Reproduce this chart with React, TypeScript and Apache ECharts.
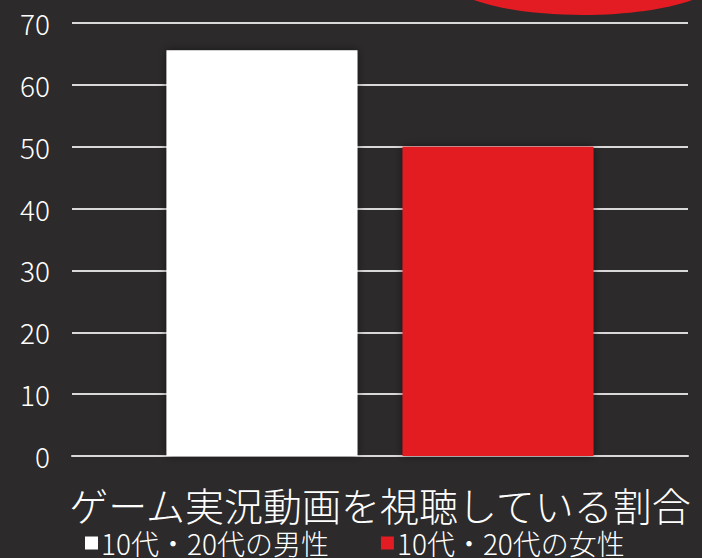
import React, { useEffect, useRef } from "react";
import * as echarts from "echarts";

const categories = ["ゲーム実況動画を視聴している割合"];
const seriesNames = ["10代・20代の男性", "10代・20代の女性"];
const maleValues = [65.6];
const femaleValues = [50];
const yTicks = { min: 0, max: 70, interval: 10 };

const FONT = '"Noto Sans CJK JP", "Noto Sans", sans-serif';

export default function App() {
  const ref = useRef<HTMLDivElement>(null);
  useEffect(() => {
    if (!ref.current) return;
    const chart = echarts.init(ref.current, null, { renderer: "svg" });
    chart.setOption({
      animation: false,
      backgroundColor: "#2c2a2b",
      textStyle: { fontFamily: FONT },
      grid: { left: 72, right: 14, top: 23, bottom: 102, containLabel: false },
      legend: {
        left: 85,
        top: 529,
        padding: 0,
        itemWidth: 13,
        itemHeight: 13,
        itemGap: 52,
        icon: "rect",
        textStyle: {
          color: "#ffffff",
          fontSize: 28,
          lineHeight: 26,
          fontWeight: 300,
          fontFamily: FONT,
          padding: [0, 0, 0, -2],
        },
        data: seriesNames,
      },
      xAxis: {
        type: "category",
        data: categories,
        axisLine: { show: true, lineStyle: { color: "#d9d9d9", width: 2 } },
        axisTick: { show: false },
        axisLabel: {
          color: "#ffffff",
          fontSize: 39,
          lineHeight: 39,
          fontWeight: 300,
          margin: 28,
          fontFamily: FONT,
        },
      },
      yAxis: {
        type: "value",
        min: yTicks.min,
        max: yTicks.max,
        interval: yTicks.interval,
        axisLine: { show: false },
        axisTick: { show: false },
        axisLabel: { color: "#ffffff", fontSize: 28, fontWeight: 300, margin: 22, fontFamily: FONT },
        splitLine: {
          show: true,
          lineStyle: { color: "#d9d9d9", width: 2 },
        },
      },
      series: [
        {
          name: seriesNames[0],
          type: "bar",
          data: maleValues,
          barWidth: 191,
          barGap: "23.6%",
          itemStyle: { color: "#ffffff", shadowBlur: 8, shadowColor: "rgba(0,0,0,0.5)" },
        },
        {
          name: seriesNames[1],
          type: "bar",
          data: femaleValues,
          barWidth: 191,
          barGap: "23.6%",
          itemStyle: { color: "#e31b22", shadowBlur: 8, shadowColor: "rgba(0,0,0,0.5)" },
        },
      ],
      graphic: [
        {
          type: "ellipse",
          shape: { cx: 583, cy: -25, rx: 140, ry: 40 },
          style: { fill: "#e31b22" },
          z: 10,
        },
      ],
    });
    return () => chart.dispose();
  }, []);
  return <div ref={ref} style={{ width: 702, height: 558, position: "fixed", left: 0, top: 0 }} />;
}
